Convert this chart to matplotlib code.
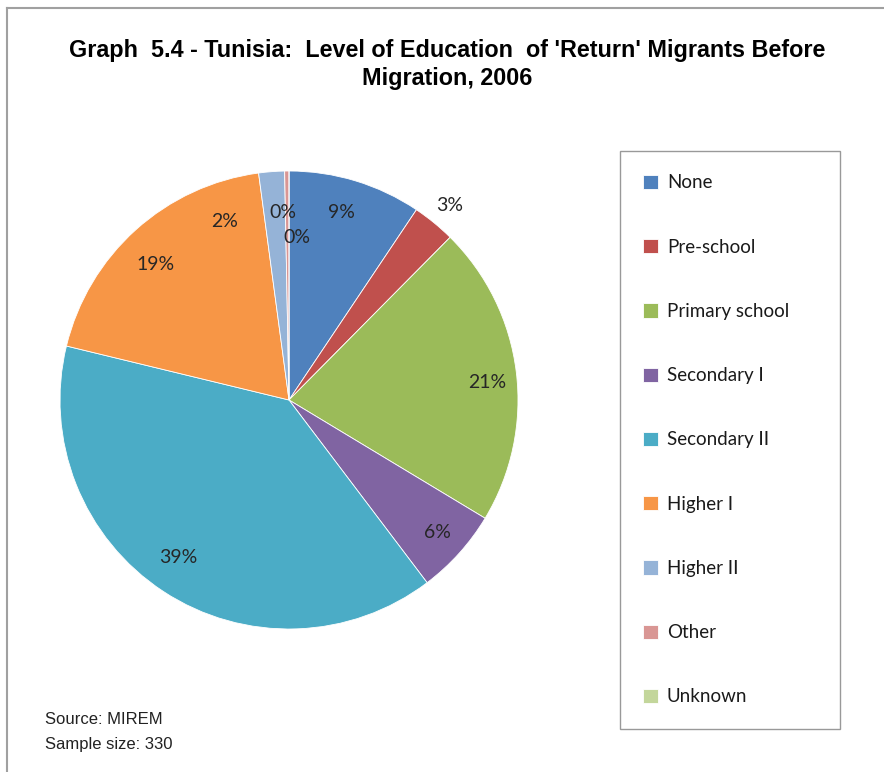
import numpy as np
import matplotlib
matplotlib.use('Agg')
import matplotlib.pyplot as plt
from matplotlib.lines import Line2D

# education level of return migrants, counts out of the 330 sample
levels = ['None', 'Pre-school', 'Primary school', 'Secondary I', 'Secondary II',
          'Higher I', 'Higher II', 'Other', 'Unknown']
counts = [31, 10, 70, 20, 129, 63, 6, 1, 0]
colors = ['#4F81BD', '#C0504D', '#9BBB59', '#8064A2', '#4BACC6',
          '#F79646', '#95B3D7', '#D99694', '#C3D69B']

# where each percentage sits: distance from centre (in radii) and a clockwise shift in degrees
lab_dist  = [0.85, 1.10, 0.87, 0.87, 0.84, 0.83, 0.83, 0.82, 0.71]
lab_shift = [-1.4, 0.2, 2.1, -0.3, 1.7, -2.6, -15.4, -1.3, 2.8]

W, H = 884, 772
fig = plt.figure(figsize=(W/100, H/100), dpi=100)
fig.patch.set_facecolor('white')

# pie axes, centre (289,400) radius 229 px
cx, cy, r = 289, 400, 229
ax = fig.add_axes([(cx-r)/W, (H-cy-r)/H, 2*r/W, 2*r/H])
wedges, _ = ax.pie(counts, colors=colors, startangle=90, counterclock=False,
                   radius=1.0, wedgeprops=dict(edgecolor='white', linewidth=0.6))
ax.set_xlim(-1, 1)
ax.set_ylim(-1, 1)
ax.set_aspect('equal')
ax.axis('off')

total = float(sum(counts))
for w, c, d, s in zip(wedges, counts, lab_dist, lab_shift):
    # wedges run clockwise, so a clockwise shift lowers theta
    mid = np.deg2rad((w.theta1 + w.theta2) / 2 - s)
    pct = int(round(100 * c / total))
    ax.text(d*np.cos(mid), d*np.sin(mid), f'{pct}%', ha='center', va='center',
            fontsize=14, family='Lato', color='#262626', clip_on=False)

title_font = dict(ha='center', va='center', fontsize=16.8, fontweight='bold',
                  family='Liberation Sans')
fig.text(0.506, 1-50/H, "Graph  5.4 - Tunisia:  Level of Education  of 'Return' Migrants Before",
         **title_font)
fig.text(0.506, 1-78/H, "Migration, 2006", **title_font)

fig.text(45/W, 1-720/H, 'Source: MIREM', ha='left', va='center', fontsize=12,
         family='Liberation Sans', color='#222222')
fig.text(45/W, 1-744/H, 'Sample size: 330', ha='left', va='center', fontsize=12,
         family='Liberation Sans', color='#222222')

leg = fig.legend(wedges, levels, loc='upper left',
                 bbox_to_anchor=(620/W, 1-151/H, 220/W, 0.0), mode='expand',
                 borderaxespad=0.0, frameon=True, fancybox=False, borderpad=1.25,
                 labelspacing=2.52, handlelength=0.8, handleheight=0.8,
                 handletextpad=0.45, prop={'family': 'Lato', 'size': 13.5})
leg.get_frame().set_edgecolor('#808080')
leg.get_frame().set_linewidth(1.0)
for t in leg.get_texts():
    t.set_color('#1a1a1a')

# outer chart border (left and top edges visible)
fig.add_artist(Line2D([7/W, 7/W], [0, 1-8/H], color='#a0a0a0', lw=1.5))
fig.add_artist(Line2D([7/W, 1], [1-8/H, 1-8/H], color='#a0a0a0', lw=1.5))

fig.savefig('out.png', dpi=100, facecolor='white')
